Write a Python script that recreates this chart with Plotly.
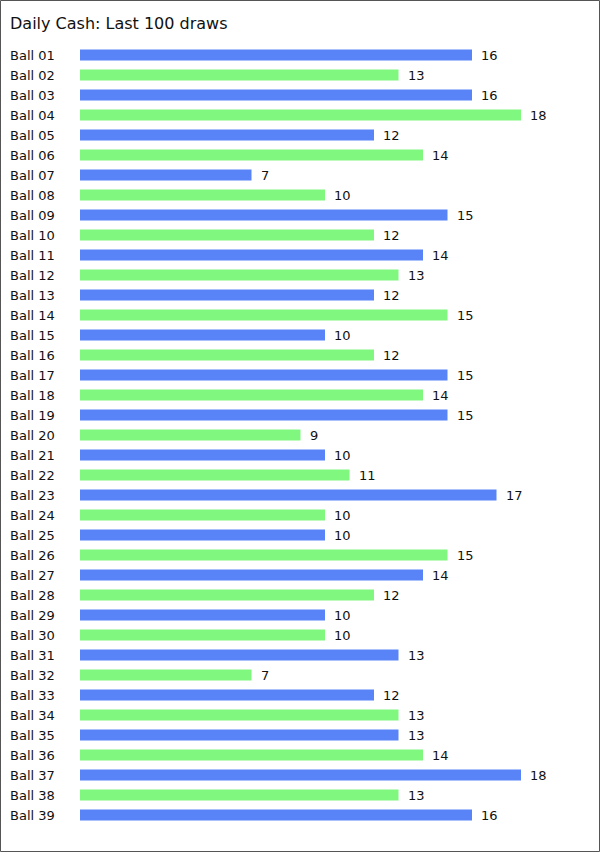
import plotly.graph_objects as go

title = "Daily Cash: Last 100 draws"
balls = [f"Ball {i:02d}" for i in range(1, 40)]
counts = [16, 13, 16, 18, 12, 14, 7, 10, 15, 12, 14, 13, 12, 15, 10, 12, 15, 14, 15, 9,
          10, 11, 17, 10, 10, 15, 14, 12, 10, 10, 13, 7, 12, 13, 13, 14, 18, 13, 16]
palette = ["#5884f8", "#80f880"]

W, H = 600, 852
ML, MR, MT, MB = 80, 30, 45, 27
PW = W - ML - MR
PH = H - MT - MB

colors = [palette[i % 2] for i in range(len(balls))]
font = "DejaVu Sans, Verdana, sans-serif"

fig = go.Figure(go.Bar(
    x=counts, y=balls, orientation="h",
    marker=dict(color=colors, line=dict(width=0)),
    width=0.56, hoverinfo="skip",
))

ann = []
for b, c in zip(balls, counts):
    ann.append(dict(x=0, xref="paper", y=b, yref="y", text=b, showarrow=False,
                    xanchor="left", xshift=-72, font=dict(size=13, color="#111", family=font)))
    ann.append(dict(x=c, xref="x", y=b, yref="y", text=str(c), showarrow=False,
                    xanchor="left", xshift=7, font=dict(size=13, color="#111", family=font)))

fig.update_layout(
    width=W, height=H,
    margin=dict(l=ML, r=MR, t=MT, b=MB, pad=0),
    paper_bgcolor="white", plot_bgcolor="white",
    showlegend=False,
    title=dict(text=title, x=10 / W, xref="container", xanchor="left",
               y=1 - 23 / H, yref="container", yanchor="middle",
               font=dict(size=16, color="#111", family=font)),
    xaxis=dict(range=[0, PW / 24.5], showgrid=False, zeroline=False,
               showticklabels=False, showline=False, fixedrange=True),
    yaxis=dict(autorange=False, range=[len(balls) - 0.5, -0.5], showgrid=False,
               zeroline=False, showticklabels=False, showline=False, fixedrange=True),
    annotations=ann,
    shapes=[dict(type="rect", xref="paper", yref="paper",
                 x0=(0.5 - ML) / PW, x1=(W - 0.5 - ML) / PW,
                 y0=-(MB - 0.5) / PH, y1=1 + (MT - 0.5) / PH,
                 line=dict(color="#555", width=1), layer="above")],
)

fig.write_html("out.html", config={"displayModeBar": False})
